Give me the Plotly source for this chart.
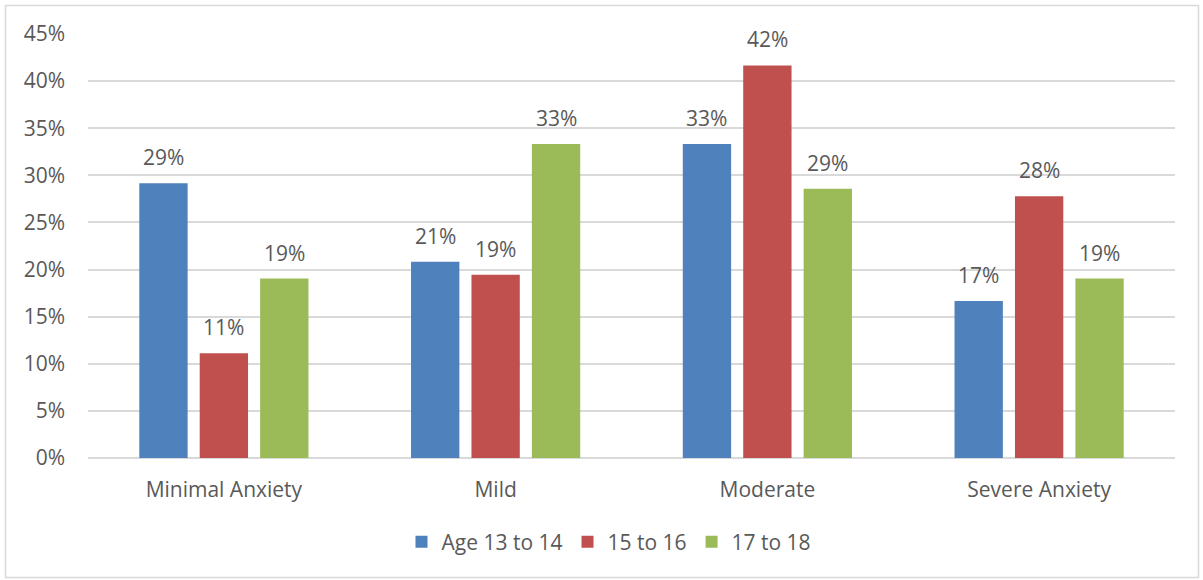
import plotly.graph_objects as go

# Anxiety level distribution by age group (share of each age group)
categories = ["Minimal Anxiety", "Mild", "Moderate", "Severe Anxiety"]
series_names = ["Age 13 to 14", "15 to 16", "17 to 18"]
age_13_14 = [0.2917, 0.2083, 0.3333, 0.1667]
age_15_16 = [0.1111, 0.1944, 0.4167, 0.2778]
age_17_18 = [0.1905, 0.3333, 0.2857, 0.1905]
y_ticks = [0, 0.05, 0.10, 0.15, 0.20, 0.25, 0.30, 0.35, 0.40, 0.45]

series_values = [age_13_14, age_15_16, age_17_18]
colors = ["#4F81BD", "#C0504D", "#9BBB59"]

FONT = "Open Sans"
FS = 21
TEXT_COLOR = "#595959"
W, H = 1203, 580
ML, MR, MT, MB = 88, 28, 34, 122
BARGAP = 0.333

fig = go.Figure()
for name, vals, col in zip(series_names, series_values, colors):
    fig.add_trace(go.Bar(
        x=categories, y=vals, name=name,
        marker=dict(color=col, line=dict(width=0)),
    ))

# value labels above each bar
slot = (1 - BARGAP) / len(series_values)
annotations = []
for k, vals in enumerate(series_values):
    offset = (k - (len(series_values) - 1) / 2) * slot
    for i, v in enumerate(vals):
        annotations.append(dict(
            x=i + offset, y=v, xref="x", yref="y",
            text=f"{round(v * 100)}%", showarrow=False,
            yanchor="middle", yshift=26,
            font=dict(family=FONT, size=FS, color=TEXT_COLOR),
        ))

# outer chart border
pw, ph = W - ML - MR, H - MT - MB
def px_to_paper_x(px):
    return (px - ML) / pw
def px_to_paper_y(py):
    return (H - MB - py) / ph

fig.add_shape(
    type="rect", xref="paper", yref="paper",
    x0=px_to_paper_x(5.5), x1=px_to_paper_x(1198.5),
    y0=px_to_paper_y(577.5), y1=px_to_paper_y(5.5),
    line=dict(color="#d9d9d9", width=1.5), fillcolor="rgba(0,0,0,0)",
    layer="below",
)

fig.update_layout(
    width=W, height=H,
    margin=dict(l=ML, r=MR, t=MT, b=MB),
    paper_bgcolor="white", plot_bgcolor="white",
    barmode="group", bargap=BARGAP, bargroupgap=0.2,
    font=dict(family=FONT, size=FS, color=TEXT_COLOR),
    annotations=annotations,
    showlegend=True,
    legend=dict(
        orientation="h", x=px_to_paper_x(609), xanchor="center",
        y=px_to_paper_y(542), yanchor="middle",
        font=dict(family=FONT, size=FS, color=TEXT_COLOR),
        itemclick=False, itemdoubleclick=False,
    ),
    xaxis=dict(
        showgrid=False, showline=False, zeroline=False,
        ticks="", ticklabelstandoff=17,
        tickfont=dict(family=FONT, size=FS, color=TEXT_COLOR),
    ),
    yaxis=dict(
        range=[0, 0.45], tickvals=y_ticks, tickformat=".0%",
        showgrid=True, gridcolor="#d9d9d9", gridwidth=1.5,
        zeroline=True, zerolinecolor="#d9d9d9", zerolinewidth=1.5,
        showline=False, ticks="", ticklabelstandoff=22,
        tickfont=dict(family=FONT, size=FS, color=TEXT_COLOR),
    ),
)

fig.write_html("out.html")
